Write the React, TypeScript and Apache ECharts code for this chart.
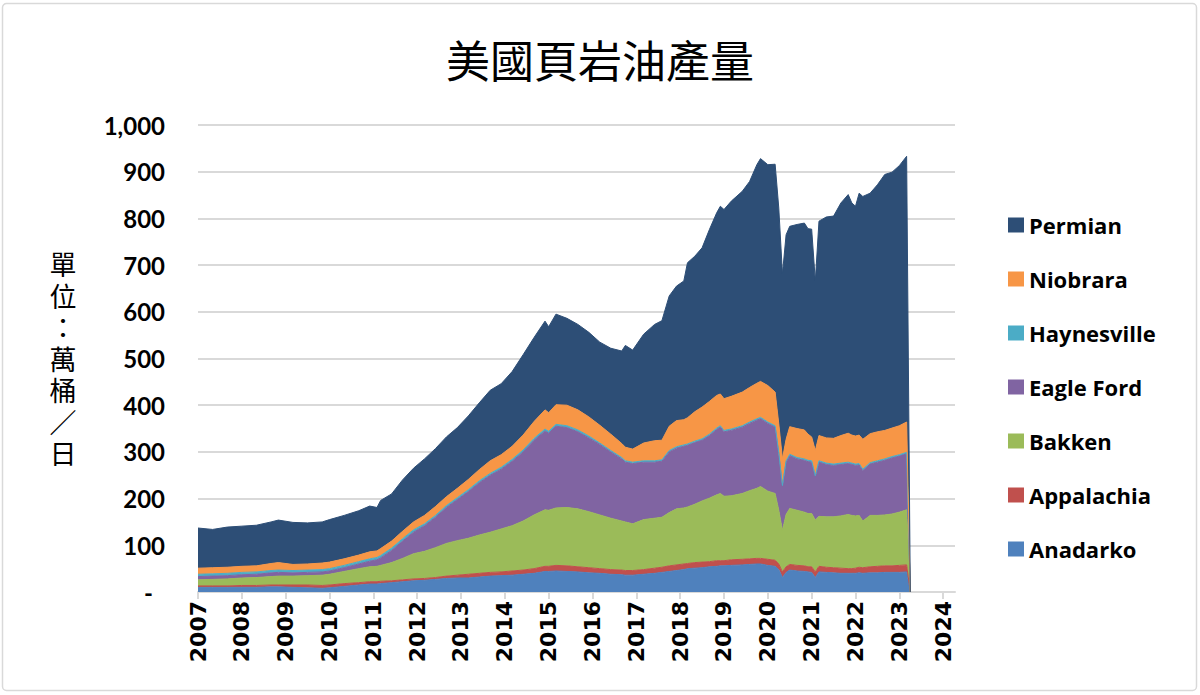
import React, { useEffect, useRef } from "react";
import * as echarts from "echarts";

const dates = [
  "2007-01", "2007-05", "2007-09", "2008-01", "2008-05", "2008-09", "2008-11", "2009-03", "2009-07", "2009-11",
  "2010-01", "2010-05", "2010-09", "2010-12", "2011-02", "2011-03", "2011-06", "2011-09", "2011-12", "2012-03",
  "2012-06", "2012-09", "2012-12", "2013-03", "2013-06", "2013-09", "2013-12", "2014-03", "2014-06", "2014-09",
  "2014-12", "2015-01", "2015-03", "2015-06", "2015-09", "2015-12", "2016-03", "2016-06", "2016-09", "2016-10",
  "2016-12", "2017-03", "2017-06", "2017-08", "2017-10", "2017-12", "2018-02", "2018-03", "2018-05", "2018-07",
  "2018-09", "2018-11", "2018-12", "2019-01", "2019-03", "2019-06", "2019-08", "2019-10", "2019-11", "2020-01",
  "2020-03", "2020-04", "2020-05", "2020-06", "2020-07", "2020-09", "2020-11", "2020-12", "2021-01", "2021-02",
  "2021-03", "2021-05", "2021-07", "2021-09", "2021-11", "2021-12", "2022-01", "2022-02", "2022-03", "2022-05",
  "2022-07", "2022-09", "2022-11", "2023-01", "2023-03", "2023-04",
];

const anadarko = [
  10, 10, 10, 10, 10, 11, 11, 10, 9, 8,
  9, 12, 15, 17, 17, 18, 20, 22, 24, 25,
  27, 29, 30, 30, 32, 34, 35, 36, 38, 40,
  44, 44, 45, 44, 43, 41, 40, 38, 37, 36,
  36, 38, 40, 42, 44, 46, 48, 50, 51, 52,
  54, 55, 56, 56, 57, 58, 59, 60, 60, 57,
  55, 48, 31, 42, 47, 45, 44, 43, 42, 31,
  43, 42, 41, 40, 40, 40, 40, 41, 40, 41,
  41, 42, 42, 42, 43, 0,
];

const appalachia = [
  3, 3, 3, 4, 4, 4, 4, 5, 6, 6,
  6, 6, 5, 5, 5, 5, 4, 4, 4, 4,
  4, 5, 6, 8, 8, 8, 8, 9, 9, 10,
  11, 11, 12, 12, 11, 11, 10, 10, 10, 10,
  10, 10, 11, 11, 12, 12, 12, 11, 12, 12,
  11, 12, 11, 11, 12, 12, 12, 12, 12, 13,
  13, 12, 12, 12, 12, 12, 12, 11, 12, 12,
  12, 11, 11, 11, 10, 10, 11, 12, 12, 13,
  14, 14, 14, 15, 15, 0,
];

const bakken = [
  13, 14, 15, 16, 17, 18, 19, 19, 20, 22,
  23, 26, 30, 32, 33, 34, 39, 46, 54, 58,
  64, 70, 74, 77, 82, 86, 92, 97, 105, 115,
  121, 120, 123, 125, 124, 120, 115, 110, 105, 104,
  100, 107, 107, 107, 114, 120, 120, 121, 125, 131,
  136, 141, 144, 138, 137, 141, 146, 150, 154, 146,
  143, 115, 89, 112, 120, 118, 115, 114, 114, 111,
  107, 108, 109, 112, 116, 114, 112, 111, 100, 110,
  109, 109, 111, 114, 118, 0,
];

const eagleFord = [
  7, 7, 7, 7, 7, 8, 8, 7, 7, 7,
  7, 8, 10, 12, 14, 16, 26, 37, 46, 55,
  65, 77, 88, 100, 112, 122, 128, 138, 148, 160,
  169, 165, 175, 171, 165, 158, 151, 142, 133, 128,
  129, 123, 120, 120, 130, 130, 132, 132, 132, 130,
  134, 140, 142, 138, 140, 142, 144, 146, 145, 145,
  142, 120, 93, 112, 113, 110, 111, 111, 110, 92,
  116, 112, 110, 110, 109, 109, 108, 108, 108, 110,
  114, 117, 120, 120, 120, 0,
];

const haynesville = [
  5, 5, 5, 5, 5, 5, 5, 5, 5, 5,
  5, 5, 5, 5, 5, 5, 5, 5, 5, 4,
  4, 4, 4, 4, 4, 4, 4, 4, 4, 4,
  4, 4, 4, 4, 4, 4, 3, 3, 3, 3,
  3, 3, 3, 3, 3, 3, 3, 3, 3, 3,
  3, 3, 3, 3, 3, 3, 3, 3, 3, 3,
  3, 3, 3, 3, 3, 3, 3, 3, 3, 3,
  3, 3, 3, 3, 3, 3, 3, 3, 3, 3,
  3, 3, 3, 3, 3, 0,
];

const niobrara = [
  13, 13, 13, 13, 13, 15, 16, 13, 13, 14,
  14, 14, 14, 15, 14, 15, 15, 16, 17, 18,
  19, 19, 20, 22, 24, 27, 27, 28, 32, 36,
  41, 40, 42, 44, 43, 41, 38, 35, 30, 29,
  28, 38, 43, 42, 52, 56, 54, 56, 63, 68,
  70, 70, 68, 68, 70, 72, 74, 76, 77, 78,
  72, 62, 57, 46, 59, 62, 62, 56, 51, 54,
  54, 54, 55, 59, 62, 60, 60, 61, 64, 62,
  62, 61, 61, 62, 65, 0,
];

const permian = [
  86, 82, 86, 86, 87, 89, 91, 90, 88, 88,
  91, 93, 95, 98, 93, 103, 101, 110, 115, 121,
  124, 128, 130, 136, 143, 151, 152, 160, 172, 180,
  190, 184, 194, 186, 183, 181, 178, 184, 198, 218,
  212, 233, 249, 256, 279, 288, 297, 332, 333, 341,
  368, 391, 402, 405, 418, 430, 441, 468, 477, 473,
  488, 462, 396, 438, 429, 437, 443, 440, 445, 363,
  459, 473, 476, 498, 511, 497, 492, 518, 520, 515,
  529, 548, 548, 557, 569, 0,
];

const yearTicks = [
  2007, 2008, 2009, 2010, 2011, 2012, 2013, 2014, 2015,
  2016, 2017, 2018, 2019, 2020, 2021, 2022, 2023, 2024,
];

const legendOrder = ["Permian", "Niobrara", "Haynesville", "Eagle Ford", "Bakken", "Appalachia", "Anadarko"];

const unitChars = ["單", "位", "：", "萬", "桶", "／", "日"];

const toX = (d: string) => {
  const [y, m] = d.split("-").map(Number);
  return y + (m - 1) / 12;
};

export default function App() {
  const ref = useRef<HTMLDivElement>(null);

  useEffect(() => {
    document.body.style.margin = "0";
    const chart = echarts.init(ref.current!, null, { renderer: "svg" });

    const seriesDefs = [
      { name: "Anadarko", data: anadarko, color: "#4f81bd" },
      { name: "Appalachia", data: appalachia, color: "#c0504d" },
      { name: "Bakken", data: bakken, color: "#9bbb59" },
      { name: "Eagle Ford", data: eagleFord, color: "#8064a2" },
      { name: "Haynesville", data: haynesville, color: "#4bacc6" },
      { name: "Niobrara", data: niobrara, color: "#f79646" },
      { name: "Permian", data: permian, color: "#2d4e76" },
    ];

    chart.setOption({
      animation: false,
      backgroundColor: "#ffffff",
      title: {
        text: "美國頁岩油產量",
        left: "center",
        top: 32,
        textStyle: {
          fontFamily: "'Noto Sans CJK TC', sans-serif",
          fontSize: 44,
          fontWeight: "normal",
          color: "#000",
        },
      },
      legend: {
        data: legendOrder,
        orient: "vertical",
        left: 1003,
        top: 208,
        icon: "rect",
        itemWidth: 16,
        itemHeight: 15,
        itemGap: 30,
        textStyle: {
          fontFamily: "'Open Sans', sans-serif",
          fontSize: 22,
          fontWeight: "bold",
          color: "#000",
          lineHeight: 24,
        },
      },
      grid: { left: 198, right: 245, top: 125, bottom: 103 },
      xAxis: {
        type: "value",
        min: 2007,
        max: 2024.27,
        splitLine: { show: false },
        axisLine: { show: true, lineStyle: { color: "#d9d9d9", width: 2 } },
        axisTick: {
          show: true,
          customValues: yearTicks,
          length: 7,
          lineStyle: { color: "#d9d9d9", width: 2 },
        },
        axisLabel: {
          customValues: yearTicks,
          rotate: 90,
          margin: 9,
          formatter: (v: number) => String(Math.round(v)),
          fontFamily: "'DejaVu Sans', sans-serif",
          fontSize: 22,
          fontWeight: "bold",
          color: "#000",
        },
      },
      yAxis: {
        type: "value",
        min: 0,
        max: 1000,
        interval: 100,
        axisLine: { show: false },
        axisTick: { show: false },
        splitLine: { lineStyle: { color: "#d9d9d9", width: 2 } },
        axisLabel: {
          margin: 33,
          formatter: (v: number) => (v === 0 ? "{d|-}" : v.toLocaleString("en-US")),
          fontFamily: "Lato, sans-serif",
          fontSize: 24,
          fontWeight: "bold",
          color: "#000",
          rich: {
            d: {
              fontFamily: "Lato, sans-serif",
              fontSize: 24,
              fontWeight: "bold",
              color: "#000",
              padding: [0, 12, 0, 0],
            },
          },
        },
      },
      graphic: [
        {
          type: "rect",
          shape: { x: 2.5, y: 3.5, width: 1194, height: 687, r: 4 },
          style: { fill: "none", stroke: "#d9d9d9", lineWidth: 1.5 },
          silent: true,
        },
        ...unitChars.map((ch, i) => ({
          type: "text",
          x: 63,
          y: 250 + i * 31.5,
          style: {
            text: ch,
            fontFamily: "'Noto Sans CJK TC', sans-serif",
            fontSize: 27,
            textAlign: "center",
            textVerticalAlign: "top",
            fill: "#000",
          },
        })),
      ],
      series: seriesDefs.map((s) => ({
        name: s.name,
        type: "line",
        stack: "total",
        // value first so that the stacked dimension is the production value
        data: dates.map((d, i) => [s.data[i], toX(d)]),
        encode: { x: 1, y: 0 },
        showSymbol: false,
        symbol: "none",
        color: s.color,
        itemStyle: { color: s.color },
        lineStyle: { width: 1, color: s.color },
        areaStyle: { color: s.color, opacity: 1 },
        emphasis: { disabled: true },
      })),
    });

    return () => chart.dispose();
  }, []);

  return <div ref={ref} style={{ width: 1200, height: 695 }} />;
}
